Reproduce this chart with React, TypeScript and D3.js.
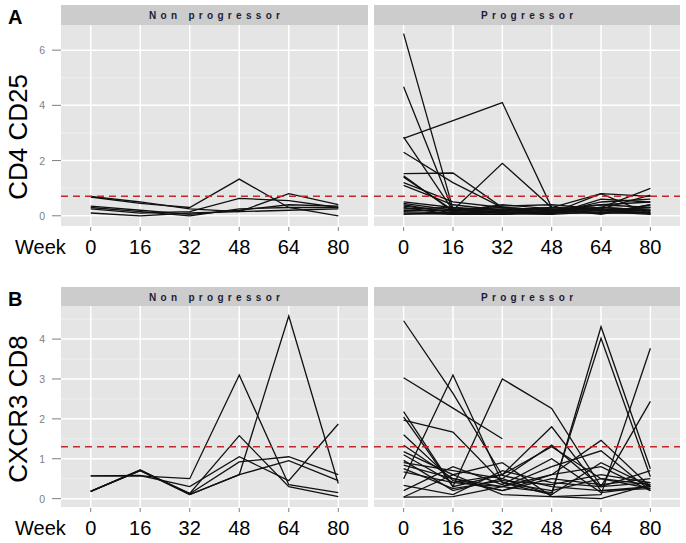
import * as d3 from 'd3';

// x categories (weeks)
const weeks = [0, 16, 32, 48, 64, 80];
const facets = ['Non progressor', 'Progressor'];

// panel A: CD4 CD25, one array per subject
const cd25NonProg: (number | null)[][] = [
  [0.7, 0.5, 0.25, 0.15, 0.8, 0.4],
  [0.68, 0.45, 0.3, 1.33, 0.3, 0.0],
  [0.35, 0.2, 0.05, 0.2, 0.4, 0.35],
  [0.25, 0.1, 0.15, 0.63, 0.55, 0.3],
  [0.1, 0.0, 0.1, 0.15, 0.2, 0.25],
  [0.3, 0.15, 0.0, 0.25, 0.3, 0.3],
];

const cd25Prog: (number | null)[][] = [
  [6.6, 0.25, 0.2, 0.15, 0.3, 0.2],
  [4.67, 0.2, 0.1, 0.2, 0.4, 0.3],
  [2.8, 3.45, 4.1, 0.3, 0.2, 0.1],
  [2.85, 0.2, 0.15, 0.1, 0.2, 0.3],
  [2.3, 1.2, 0.3, 0.2, 0.1, 0.4],
  [1.53, 1.55, 0.3, 0.2, 0.4, 0.5],
  [1.4, 0.2, 1.9, 0.3, 0.2, 0.2],
  [1.45, 0.15, 0.25, 0.1, 0.8, 0.7],
  [1.2, 0.5, 0.3, 0.2, 0.3, 0.99],
  [1.1, 0.4, 0.2, 0.1, 0.5, 0.6],
  [0.5, 0.3, 0.2, 0.3, 0.2, 0.1],
  [0.4, 0.1, 0.1, 0.05, 0.15, 0.05],
  [0.3, 0.05, 0.05, 0.2, 0.1, 0.15],
  [0.2, 0.2, 0.3, 0.1, 0.3, 0.2],
  [0.15, 0.1, 0.15, 0.3, 0.8, 0.05],
  [0.1, 0.05, 0.2, 0.15, 0.2, 0.3],
  [0.35, 0.15, 0.4, 0.25, 0.05, 0.4],
  [0.05, 0.1, 0.05, 0.1, 0.1, 0.1],
  [0.25, 0.3, 0.1, 0.05, 0.6, 0.5],
  [0.45, 0.2, 0.35, 0.4, 0.25, 0.75],
];

// panel B: CXCR3 CD8
const cxcr3NonProg: (number | null)[][] = [
  [0.57, 0.57, 0.5, 3.1, 0.35, 0.15],
  [0.18, 0.72, 0.1, 0.6, 4.58, 0.38],
  [0.18, 0.7, 0.13, 1.58, 0.3, 0.05],
  [0.57, 0.58, 0.3, 1.05, 0.45, 1.87],
  [0.18, 0.72, 0.12, 0.92, 1.05, 0.6],
  [0.18, 0.7, 0.1, 0.6, 0.95, 0.45],
];

const cxcr3Prog: (number | null)[][] = [
  [4.46, 2.64, 0.58, 0.3, 0.2, 0.3],
  [3.03, 2.27, 1.5, null, null, null],
  [0.5, 3.1, 0.4, 0.2, 0.5, 0.35],
  [2.18, 0.3, 3.0, 2.26, 0.3, 0.4],
  [2.05, 0.3, 0.6, 1.8, 0.2, 0.25],
  [1.97, 1.67, 0.4, 0.1, 4.31, 0.75],
  [1.34, 0.5, 0.3, 0.15, 4.02, 0.55],
  [1.18, 0.6, 0.9, 0.05, 0.1, 3.77],
  [0.96, 0.2, 0.5, 1.34, 0.3, 2.44],
  [0.84, 0.5, 0.2, 0.6, 1.46, 0.3],
  [0.67, 0.4, 0.3, 0.8, 1.2, 0.2],
  [0.33, 0.1, 0.7, 0.4, 0.3, 0.7],
  [0.04, 0.05, 0.3, 0.6, 0.8, 0.2],
  [0.04, 0.6, 0.1, 0.05, 0.0, 0.35],
  [1.1, 0.4, 0.6, 1.3, 0.5, 0.25],
  [0.75, 0.25, 0.45, 0.35, 0.6, 0.4],
  [0.9, 0.7, 0.5, 0.1, 0.9, 0.3],
  [1.6, 0.45, 0.2, 0.5, 0.35, 0.5],
  [0.2, 0.8, 0.35, 1.0, 0.15, 0.3],
];

const cd25Ticks = [0, 2, 4, 6];
const cd25Minor = [1, 3, 5];
const cxcr3Ticks = [0, 1, 2, 3, 4];
const cxcr3Minor = [0.5, 1.5, 2.5, 3.5, 4.5];

const cd25Cutoff = 0.71;
const cxcr3Cutoff = 1.3;

const FONT = '"Liberation Sans", Arial, sans-serif';
const panelX = [
  [61, 368],
  [374, 680],
];

interface RowProps {
  letter: string;
  title: string;
  titleY: number;
  top: number; // strip top
  stripH: number;
  bottom: number; // panel bottom
  domain: [number, number];
  ticks: number[];
  minor: number[];
  cutoff: number;
  data: (number | null)[][][];
}

function Row({ letter, title, titleY, top, stripH, bottom, domain, ticks, minor, cutoff, data }: RowProps) {
  const pTop = top + stripH;
  const y = d3.scaleLinear().domain(domain).range([bottom, pTop]);

  return (
    <g>
      <text x={8} y={top + 19} fontFamily={FONT} fontWeight="bold" fontSize={20} fill="#000">
        {letter}
      </text>
      <text
        transform={`translate(18,${titleY}) rotate(-90)`}
        textAnchor="middle"
        dominantBaseline="central"
        fontFamily={FONT}
        fontSize={26}
        fill="#000"
      >
        {title}
      </text>
      {/* y ticks */}
      {ticks.map((t) => (
        <g key={t}>
          <line x1={52} x2={61} y1={y(t)} y2={y(t)} stroke="#7f7f7f" strokeWidth={1} />
          <text x={45} y={y(t)} textAnchor="end" dominantBaseline="central" fontFamily={FONT} fontSize={10.5} fill="#808080">
            {t}
          </text>
        </g>
      ))}
      <text x={15} y={bottom + 28} fontFamily={FONT} fontSize={20} fill="#000">
        Week
      </text>
      {facets.map((f, i) => {
        const [x0, x1] = panelX[i];
        const x = d3.scalePoint<number>().domain(weeks).range([x0, x1]).padding(0.6);
        const line = d3
          .line<number | null>()
          .defined((d) => d != null)
          .x((_, j) => x(weeks[j]) as number)
          .y((d) => y(d as number));
        const ls = 4.3;
        return (
          <g key={f}>
            <rect x={x0} y={top} width={x1 - x0} height={stripH} fill="#cccccc" />
            <text
              x={(x0 + x1) / 2 + ls / 2}
              y={top + stripH / 2 + 0.5}
              textAnchor="middle"
              dominantBaseline="central"
              fontFamily={FONT}
              fontSize={10}
              fontWeight="bold"
              letterSpacing={ls}
              fill="#1c1c38"
            >
              {f}
            </text>
            <rect x={x0} y={pTop} width={x1 - x0} height={bottom - pTop} fill="#e5e5e5" />
            {minor.map((m) => (
              <line key={m} x1={x0} x2={x1} y1={y(m)} y2={y(m)} stroke="#f2f2f2" strokeWidth={0.8} />
            ))}
            {ticks.map((t) => (
              <line key={t} x1={x0} x2={x1} y1={y(t)} y2={y(t)} stroke="#ffffff" strokeWidth={1.5} />
            ))}
            {weeks.map((w) => (
              <line key={w} x1={x(w)} x2={x(w)} y1={pTop} y2={bottom} stroke="#ffffff" strokeWidth={1.5} />
            ))}
            {data[i].map((s, k) => (
              <path key={k} d={line(s) ?? ''} fill="none" stroke="#111" strokeWidth={1.3} />
            ))}
            <line
              x1={x0}
              x2={x1}
              y1={y(cutoff)}
              y2={y(cutoff)}
              stroke="#c0282d"
              strokeWidth={1.6}
              strokeDasharray="7,5"
            />
            {weeks.map((w) => (
              <g key={w}>
                <line x1={x(w)} x2={x(w)} y1={bottom + 1} y2={bottom + 5} stroke="#7f7f7f" strokeWidth={1} />
                <text x={x(w)} y={bottom + 28} textAnchor="middle" fontFamily={FONT} fontSize={20} fill="#000">
                  {w}
                </text>
              </g>
            ))}
          </g>
        );
      })}
    </g>
  );
}

export default function App() {
  return (
    <svg
      width={686}
      height={543}
      viewBox="0 0 686 543"
      style={{ position: 'absolute', left: 0, top: 0, background: '#fff' }}
    >
      <rect width={686} height={543} fill="#fff" />
      <Row
        letter="A"
        title="CD4 CD25"
        titleY={137}
        top={5}
        stripH={20}
        bottom={226}
        domain={[-0.37, 6.91]}
        ticks={cd25Ticks}
        minor={cd25Minor}
        cutoff={cd25Cutoff}
        data={[cd25NonProg, cd25Prog]}
      />
      <Row
        letter="B"
        title="CXCR3 CD8"
        titleY={409}
        top={287}
        stripH={19}
        bottom={507}
        domain={[-0.21, 4.83]}
        ticks={cxcr3Ticks}
        minor={cxcr3Minor}
        cutoff={cxcr3Cutoff}
        data={[cxcr3NonProg, cxcr3Prog]}
      />
    </svg>
  );
}
